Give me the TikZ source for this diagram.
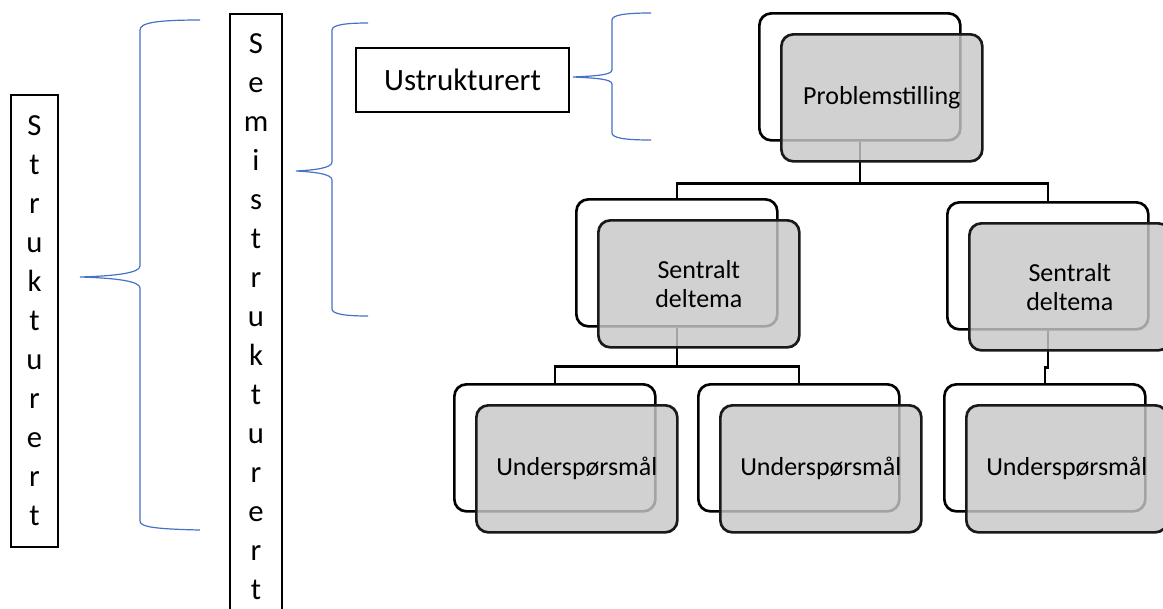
\documentclass[tikz,border=0pt]{standalone}
\usepackage{fontspec}
\setmainfont{Carlito}
\definecolor{braceblue}{RGB}{68,114,196}

\begin{document}
\begin{tikzpicture}
            [x=0.75pt, y=-0.75pt,
             bak/.style={draw, line width=2pt, rounded corners=9pt, minimum width=150.75pt, minimum height=95.25pt, anchor=north west},
             front/.style={bak, draw=black!90, fill=black!22, fill opacity=0.82, text opacity=1, font=\fontsize{19.5}{21.5}\selectfont, align=center, inner sep=0pt},
             lin/.style={line width=1.8pt},
             tall/.style={draw, line width=1.3pt, font=\fontsize{23}{29.25}\selectfont, align=center, inner sep=0pt},
             klamme/.style={braceblue, line width=0.9pt}]
            \useasboundingbox (0,0) rectangle (1163,608);
            \node[tall, minimum width=35.25pt, minimum height=339pt] (strukt) at (34.5,321) {S\\t\\r\\u\\k\\t\\u\\r\\e\\r\\t};
            \node[tall, minimum width=39pt, minimum height=454.5pt, anchor=north] (semi) at (256,13) {S\\e\\m\\i\\s\\t\\r\\u\\k\\t\\u\\r\\e\\r\\t};
            \node[draw, line width=1.5pt, minimum width=159.75pt, minimum height=48pt, font=\fontsize{23.25}{28}\selectfont] (ustr) at (462.5,80) {Ustrukturert};
            \draw[klamme] (200,20) .. controls (155,20) and (140,23) .. (140,30) -- (140,266) .. controls (140,273) and (115,276) .. (80,277) .. controls (115,278) and (140,281) .. (140,288) -- (140,521) .. controls (140,527) and (155,529) .. (200,530);
            \draw[klamme] (368,23) .. controls (345,23) and (332,25) .. (332,30) -- (332,162) .. controls (332,168) and (315,170) .. (296,171) .. controls (315,172) and (332,174) .. (332,180) -- (332,309) .. controls (332,314) and (345,316) .. (368,316);
            \draw[klamme] (651,13) .. controls (625,13) and (612,15) .. (612,20) -- (612,70) .. controls (612,75) and (595,76) .. (573,77) .. controls (595,78) and (612,79) .. (612,84) -- (612,133) .. controls (612,138) and (625,140) .. (651,140);
            \node[bak] (pb) at (758,12) {};
            \node[bak] (s1b) at (575,198) {};
            \node[bak] (s2b) at (946,201) {};
            \node[bak] (u1b) at (453,383) {};
            \node[bak] (u2b) at (697,383) {};
            \node[bak] (u3b) at (943,383) {};
            \draw[lin] (pb.south) -- ++(0,42) coordinate (pj) -| (s1b.north);
            \draw[lin] (pj) -| (s2b.north);
            \draw[lin] (s1b.south) -- ++(0,39) coordinate (sj) -| (u1b.north);
            \draw[lin] (sj) -| (u2b.north);
            \draw[lin] (s2b.south) -- ++(0,37) -| (u3b.north);
            \node[front] (pf) at ([shift={(22,21)}]pb.north west) {Problemstilling};
            \node[front] (s1f) at ([shift={(22,21)}]s1b.north west) {Sentralt\\deltema};
            \node[front] (s2f) at ([shift={(22,21)}]s2b.north west) {Sentralt\\deltema};
            \node[front] (u1f) at ([shift={(22,21)}]u1b.north west) {Underspørsmål};
            \node[front] (u2f) at ([shift={(22,21)}]u2b.north west) {Underspørsmål};
            \node[front] (u3f) at ([shift={(22,21)}]u3b.north west) {Underspørsmål};
        \end{tikzpicture}
\end{document}
